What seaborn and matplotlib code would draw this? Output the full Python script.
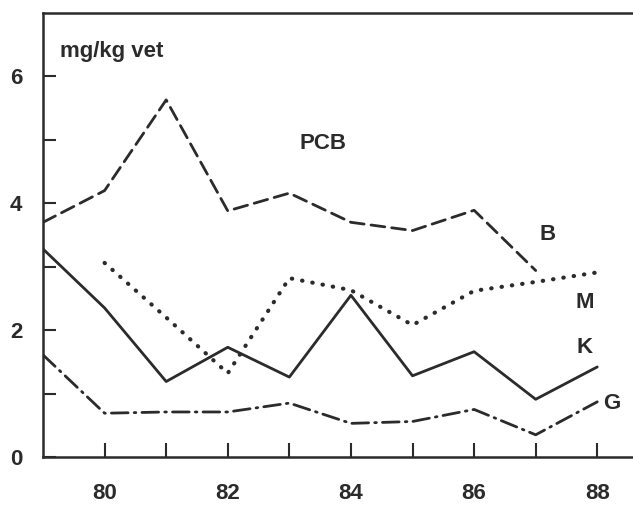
import matplotlib
matplotlib.use('Agg')
import matplotlib.pyplot as plt
import seaborn as sns
import pandas as pd
import numpy as np

# PCB-halter per år (mg/kg vet)
years = [79, 80, 81, 82, 83, 84, 85, 86, 87, 88]
b_vals = [3.70, 4.20, 5.63, 3.88, 4.16, 3.70, 3.57, 3.89, 2.94, np.nan]
m_vals = [np.nan, 3.06, 2.20, 1.32, 2.82, 2.63, 2.08, 2.62, 2.76, 2.91]
k_vals = [3.28, 2.35, 1.19, 1.73, 1.26, 2.55, 1.28, 1.66, 0.91, 1.42]
g_vals = [1.61, 0.69, 0.71, 0.71, 0.85, 0.53, 0.56, 0.75, 0.35, 0.87]

series = {'B': b_vals, 'M': m_vals, 'K': k_vals, 'G': g_vals}
styles = {'B': (0, (5, 2.5)), 'M': (0, (0.1, 2.4)), 'K': '-', 'G': (0, (6, 2.2, 0.6, 2.2))}

df = pd.DataFrame({'År': years, **series})
lang = df.melt(id_vars='År', var_name='Serie', value_name='Halt').dropna()

sns.set_style('white')
plt.rcParams['font.family'] = ['Liberation Sans', 'DejaVu Sans']

fig = plt.figure(figsize=(6.33, 5.09), dpi=100)
ax = fig.add_axes([43 / 633, 52 / 509, 1 - 43 / 633, 444 / 509])

farg = '#2b2b2b'
for namn in ['B', 'M', 'K', 'G']:
    sub = lang[lang['Serie'] == namn]
    lw = 3.0 if namn == 'M' else 2.0
    sns.lineplot(data=sub, x='År', y='Halt', ax=ax, color=farg,
                 linewidth=lw, linestyle=styles[namn], legend=False,
                 dash_capstyle='round')

ax.set_xlim(79, 88.58)
ax.set_ylim(0, 7)
ax.set_xlabel('')
ax.set_ylabel('')

ax.set_xticks(range(80, 89))
ax.set_xticklabels([str(t) if t % 2 == 0 else '' for t in range(80, 89)])
ax.set_yticks(range(0, 7))
ax.set_yticklabels([str(t) if t % 2 == 0 else '' for t in range(0, 7)])
ax.tick_params(axis='x', bottom=True, direction='in', length=10, width=1.5,
               color=farg, pad=19, labelsize=16, labelcolor=farg)
ax.tick_params(axis='y', left=True, direction='in', length=9, width=1.5,
               color=farg, pad=15, labelsize=16, labelcolor=farg)
for lab in ax.get_xticklabels() + ax.get_yticklabels():
    lab.set_fontweight('bold')

for side in ['left', 'bottom', 'top']:
    ax.spines[side].set_color(farg)
    ax.spines[side].set_linewidth(1.8)
ax.spines['right'].set_visible(False)

# Texter i diagrammet
ax.text(79.28, 6.4, 'mg/kg vet', fontsize=16, fontweight='bold', color=farg,
        va='center', ha='left')
ax.text(83.55, 4.94, 'PCB', fontsize=16, fontweight='bold', color=farg,
        va='center', ha='center')
ax.text(87.2, 3.5, 'B', fontsize=16, fontweight='bold', color=farg, va='center', ha='center')
ax.text(87.8, 2.43, 'M', fontsize=16, fontweight='bold', color=farg, va='center', ha='center')
ax.text(87.8, 1.73, 'K', fontsize=16, fontweight='bold', color=farg, va='center', ha='center')
ax.text(88.24, 0.85, 'G', fontsize=16, fontweight='bold', color=farg, va='center', ha='center')

fig.savefig('out.png', dpi=100)
